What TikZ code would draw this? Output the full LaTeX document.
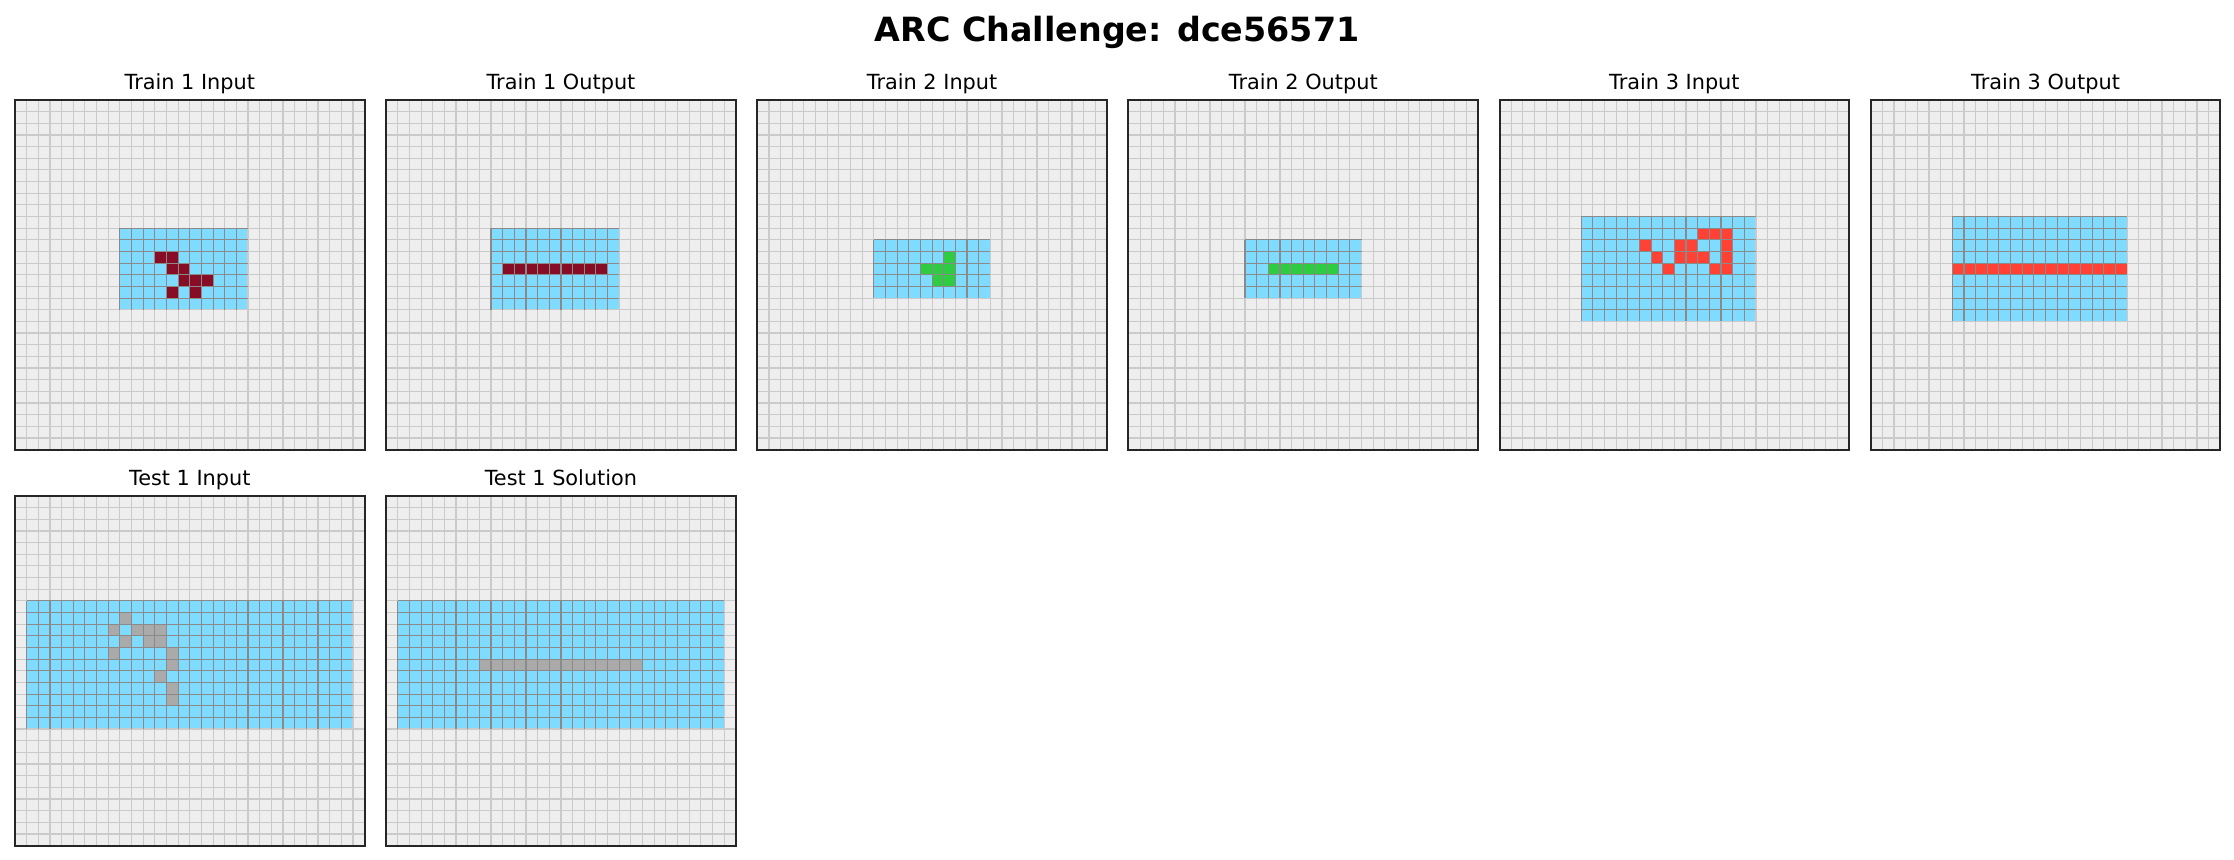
\documentclass[tikz,border=0pt]{standalone}
\usepackage{fontspec}
\setmainfont{DejaVu Sans}
\definecolor{bgc}{HTML}{EEEEEE}
\definecolor{glc}{HTML}{CACACA}
\definecolor{gdc}{HTML}{8A8A8A}
\definecolor{frc}{HTML}{262626}
\definecolor{c8}{HTML}{7FDBFF}
\definecolor{c9}{HTML}{870C25}
\definecolor{c2}{HTML}{FF4136}
\definecolor{c3}{HTML}{2ECC40}
\definecolor{c5}{HTML}{AAAAAA}
\tikzset{
  gl/.style={draw=glc, line width=0.55pt},
  gd/.style={draw=gdc, line width=0.55pt},
  fr/.style={draw=frc, line width=0.95pt},
  sub/.style={font=\fontsize{10}{12}\selectfont, anchor=base, inner sep=0pt},
  maintitle/.style={font=\fontsize{16}{19}\selectfont\bfseries, anchor=base, inner sep=0pt}
}
% #1 X, #2 Y, #3 c0, #4 r0, #5 w, #6 h, #7 colour, #8 cells
\newcommand\arcpanel[8]{%
\begin{scope}[shift={(#1,#2)}]
\begin{scope}[x=5.5934pt,y=-5.5934pt]
\fill[bgc] (0,0) rectangle (30,30);
\fill[c8] (#3,#4) rectangle ++(#5,#6);
\foreach \a/\b in {#8} \fill[#7] (#3+\a,#4+\b) rectangle ++(1,1);
\foreach \i in {1,...,29} {\draw[gl] (\i,0) -- (\i,30); \draw[gl] (0,\i) -- (30,\i);}
\pgfmathtruncatemacro\wm{#5-1}\pgfmathtruncatemacro\hm{#6-1}
\foreach \i in {0,...,\wm} \draw[gd] (#3+\i,#4) -- ++(0,#6);
\foreach \j in {0,...,\hm} \draw[gd] (#3,#4+\j) -- ++(#5,0);
\draw[fr] (0,0) rectangle (30,30);
\end{scope}\end{scope}}
\begin{document}
\begin{tikzpicture}[x=0.48pt,y=-0.48pt]
\useasboundingbox[fill=white] (0,0) rectangle (2234,860);
\node[maintitle] (title) at (1117,42) {ARC Challenge: dce56571};
% Train 1
\arcpanel{15}{100}{9}{11}{11}{7}{c9}{3/2,4/2,4/3,5/3,5/4,6/4,7/4,4/5,6/5}
\node[sub] (t1i) at (189.8,90) {Train 1 Input};
\arcpanel{386.14}{100}{9}{11}{11}{7}{c9}{1/3,2/3,3/3,4/3,5/3,6/3,7/3,8/3,9/3}
\node[sub] (t1o) at (560.94,90) {Train 1 Output};
% Train 2
\arcpanel{757.28}{100}{10}{12}{10}{5}{c3}{6/1,4/2,5/2,6/2,5/3,6/3}
\node[sub] (t2i) at (932.08,90) {Train 2 Input};
\arcpanel{1128.42}{100}{10}{12}{10}{5}{c3}{2/2,3/2,4/2,5/2,6/2,7/2}
\node[sub] (t2o) at (1303.22,90) {Train 2 Output};
% Train 3
\arcpanel{1499.56}{100}{7}{10}{15}{9}{c2}{10/1,11/1,12/1,5/2,8/2,9/2,12/2,6/3,8/3,9/3,10/3,12/3,7/4,11/4,12/4}
\node[sub] (t3i) at (1674.36,90) {Train 3 Input};
\arcpanel{1870.7}{100}{7}{10}{15}{9}{c2}{0/4,1/4,2/4,3/4,4/4,5/4,6/4,7/4,8/4,9/4,10/4,11/4,12/4,13/4,14/4}
\node[sub] (t3o) at (2045.5,90) {Train 3 Output};
% Test
\arcpanel{15}{496}{1}{9}{28}{11}{c5}{8/1,7/2,9/2,10/2,11/2,8/3,10/3,11/3,7/4,12/4,12/5,11/6,12/7,12/8}
\node[sub] (s1i) at (189.8,486) {Test 1 Input};
\arcpanel{386.14}{496}{1}{9}{28}{11}{c5}{7/5,8/5,9/5,10/5,11/5,12/5,13/5,14/5,15/5,16/5,17/5,18/5,19/5,20/5}
\node[sub] (s1s) at (560.94,486) {Test 1 Solution};
\end{tikzpicture}
\end{document}
